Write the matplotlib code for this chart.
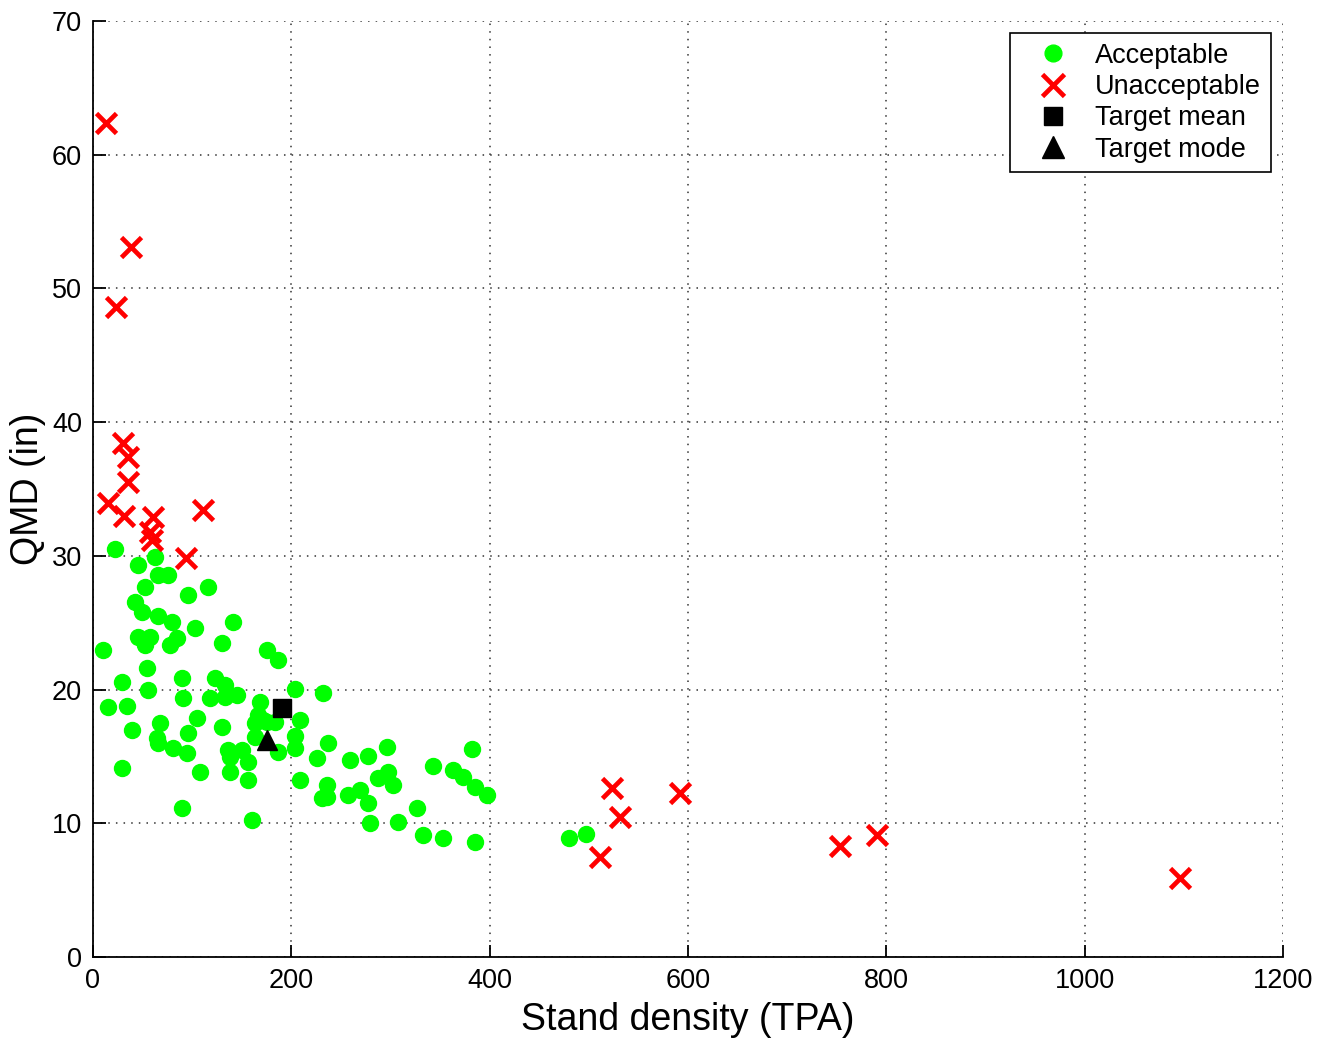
import numpy as np
import matplotlib
matplotlib.use('Agg')
import matplotlib.pyplot as plt

plt.rcParams['font.family'] = ['Liberation Sans', 'DejaVu Sans']

# acceptable stands (TPA, QMD in inches)
acc_tpa = [10.1, 22.2, 62.5, 45.4, 65.5, 75.6, 52.4, 116.0, 95.8, 42.4,
           49.4, 65.5, 79.7, 141.2, 102.9, 45.4, 57.5, 52.4, 84.7, 77.6,
           130.1, 54.5, 29.2, 89.7, 123.0, 133.1, 145.2, 55.5, 175.5, 186.5,
           203.7, 231.9, 90.8, 118.0, 133.1, 15.1, 34.3, 168.4, 166.4, 104.9,
           208.7, 67.6, 163.4, 175.5, 183.5, 39.3, 130.1, 95.8, 163.4, 64.5,
           65.5, 80.7, 203.7, 203.7, 237.0, 94.8, 136.1, 150.2, 138.1, 186.5,
           156.3, 225.9, 29.2, 107.9, 138.1, 156.3, 208.7, 236.0, 230.9, 236.0,
           89.7, 160.3, 259.2, 277.3, 296.5, 382.2, 342.8, 363.0, 373.1, 385.2,
           397.3, 287.4, 297.5, 302.5, 269.2, 257.1, 277.3, 279.3, 307.6, 326.7,
           332.8, 352.9, 385.2, 480.0, 497.1, 171.4]
acc_qmd = [22.96, 30.51, 29.92, 29.32, 28.57, 28.57, 27.67, 27.67, 27.07, 26.55,
           25.80, 25.50, 25.05, 25.05, 24.60, 23.93, 23.93, 23.33, 23.86, 23.33,
           23.48, 21.61, 20.57, 20.87, 20.87, 20.34, 19.59, 19.97, 22.96, 22.21,
           20.04, 19.74, 19.37, 19.37, 19.44, 18.70, 18.77, 19.07, 18.10, 17.87,
           17.72, 17.50, 17.50, 17.58, 17.58, 16.98, 17.20, 16.75, 16.45, 16.38,
           16.00, 15.63, 16.53, 15.63, 16.00, 15.26, 15.48, 15.48, 14.96, 15.33,
           14.58, 14.88, 14.14, 13.84, 13.84, 13.24, 13.24, 12.86, 11.89, 11.97,
           11.14, 10.25, 14.73, 15.03, 15.71, 15.56, 14.28, 13.99, 13.46, 12.71,
           12.12, 13.39, 13.84, 12.86, 12.49, 12.12, 11.52, 10.02, 10.10, 11.14,
           9.12, 8.90, 8.60, 8.90, 9.20, 17.72]

# unacceptable stands
bad_tpa = [13.1, 38.3, 23.2, 30.3, 35.3, 35.3, 15.1, 31.3, 60.5, 57.5,
           59.5, 110.9, 93.8, 523.3, 531.4, 511.2, 591.9, 753.3, 790.6, 1096.1]
bad_qmd = [62.37, 53.10, 48.61, 38.44, 37.40, 35.53, 33.95, 32.98, 32.91, 31.79,
           31.19, 33.43, 29.84, 12.64, 10.47, 7.48, 12.27, 8.30, 9.12, 5.91]

mean_tpa, mean_qmd = 190.6, 18.62
mode_tpa, mode_qmd = 175.5, 16.23

fig = plt.figure(figsize=(13.19, 10.44), dpi=100)
ax = fig.add_axes([0.0705, 0.0833, 0.9022, 0.8966])

ax.plot(acc_tpa, acc_qmd, 'o', color='#00ff00', ms=11.5, mec='#00ff00',
        label='Acceptable', zorder=3)
ax.plot(bad_tpa, bad_qmd, 'x', color='#ff0000', ms=14.5, mew=3.4,
        label='Unacceptable', zorder=3)
ax.plot(mean_tpa, mean_qmd, 's', color='black', ms=13, label='Target mean', zorder=4)
ax.plot(mode_tpa, mode_qmd, '^', color='black', ms=15, label='Target mode', zorder=4)

ax.set_xlim(0, 1200)
ax.set_ylim(0, 70)
ax.set_xticks(np.arange(0, 1201, 200))
ax.set_yticks(np.arange(0, 71, 10))
ax.grid(True, linestyle=(0, (1, 4)), color='#333333', linewidth=1.1)
ax.set_axisbelow(True)

for s in ['top', 'right']:
    ax.spines[s].set_visible(False)
for s in ['left', 'bottom']:
    ax.spines[s].set_linewidth(1.3)

ax.tick_params(direction='in', length=9, width=1.3, labelsize=19.5, pad=8)
ax.set_xlabel('Stand density (TPA)', fontsize=27, labelpad=6)
ax.set_ylabel('QMD (in)', fontsize=27, labelpad=4)

leg = ax.legend(loc='upper right', fontsize=19.5, frameon=True, fancybox=False,
                edgecolor='black', borderaxespad=0.45, handletextpad=0.3,
                handlelength=2.5, labelspacing=0.2, borderpad=0.35,
                numpoints=1, markerscale=1.05)
leg.get_frame().set_linewidth(1.2)
leg.get_frame().set_alpha(1)

fig.savefig('out.png', dpi=100)
